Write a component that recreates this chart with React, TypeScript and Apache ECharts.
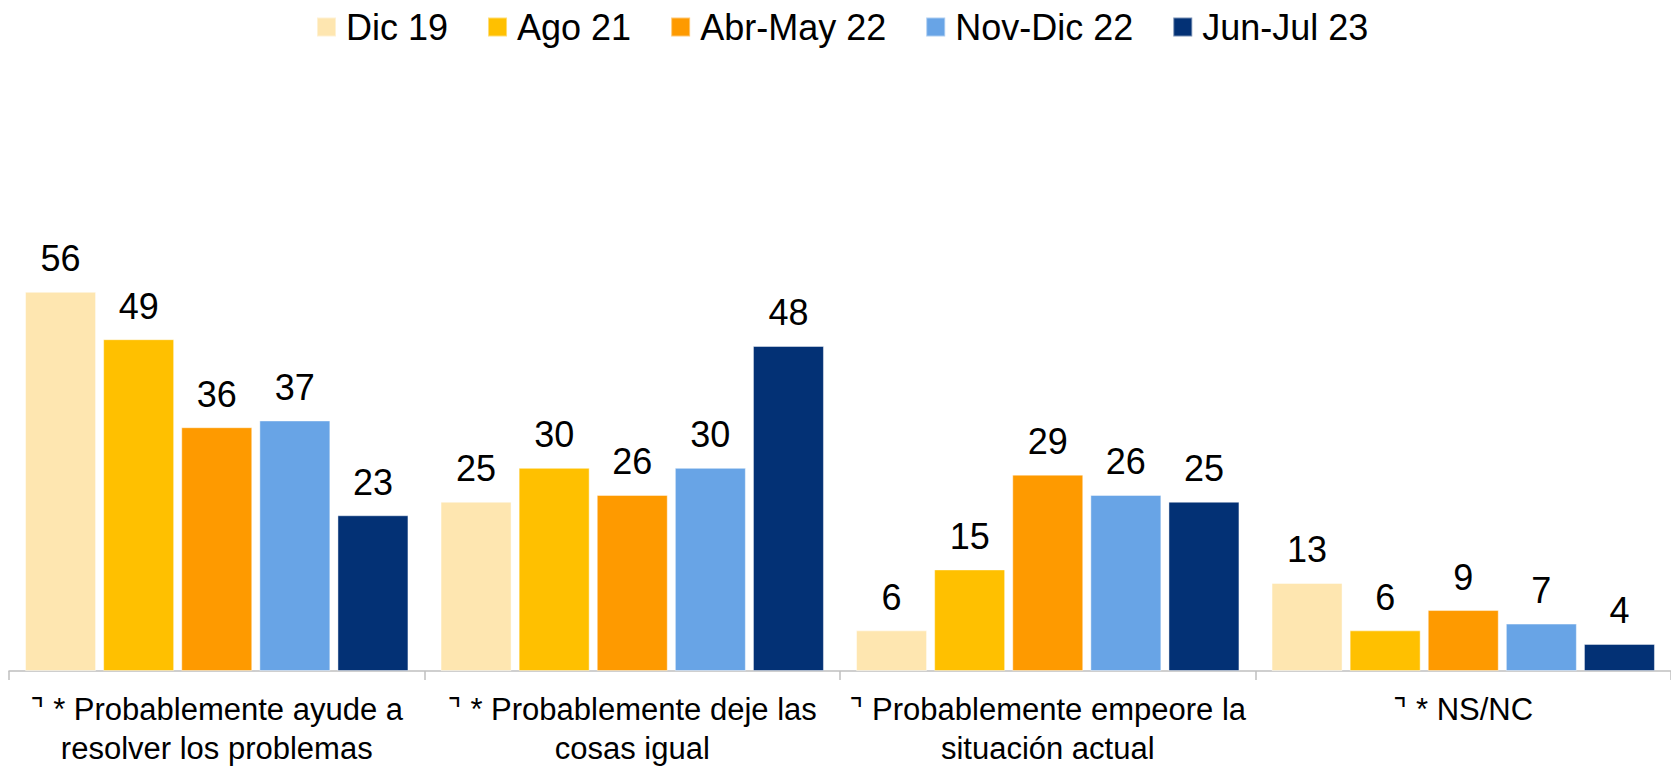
import React, { useEffect, useRef } from "react";
import * as echarts from "echarts";

const categories = [
  "* Probablemente ayude a\nresolver los problemas",
  "* Probablemente deje las\ncosas igual",
  "Probablemente empeore la\nsituación actual",
  "* NS/NC",
];

const seriesNames = ["Dic 19", "Ago 21", "Abr-May 22", "Nov-Dic 22", "Jun-Jul 23"];
const seriesColors = ["#FEE6B0", "#FFC000", "#FE9A00", "#68A4E6", "#033175"];

const dic19 = [56, 25, 6, 13];
const ago21 = [49, 30, 15, 6];
const abrMay22 = [36, 26, 29, 9];
const novDic22 = [37, 30, 26, 7];
const junJul23 = [23, 48, 25, 4];

const seriesValues = [dic19, ago21, abrMay22, novDic22, junJul23];

const FONT = "'Liberation Sans', Arial, sans-serif";
const MARK = "⌝";

export default function App() {
  const ref = useRef<HTMLDivElement>(null);

  useEffect(() => {
    document.body.style.margin = "0";
    if (!ref.current) return;
    const chart = echarts.init(ref.current, null, { renderer: "svg" });
    chart.setOption({
      animation: false,
      backgroundColor: "#ffffff",
      textStyle: { fontFamily: FONT },
      legend: {
        left: 316,
        top: 9,
        padding: 0,
        itemWidth: 19,
        itemHeight: 19,
        itemGap: 39,
        icon: "rect",
        textStyle: {
          fontFamily: FONT,
          fontSize: 36,
          color: "#000000",
          padding: [0, 0, 0, 5],
        },
        data: seriesNames,
      },
      grid: {
        left: 9,
        width: 1675,
        top: 197,
        bottom: 92,
        containLabel: false,
      },
      xAxis: {
        type: "category",
        data: categories,
        axisLine: { show: true, lineStyle: { color: "#BFBFBF", width: 1.5 } },
        axisTick: { show: true, length: 9, lineStyle: { color: "#BFBFBF", width: 1.5 } },
        axisLabel: {
          interval: 0,
          margin: 19,
          fontFamily: FONT,
          fontSize: 31,
          lineHeight: 39,
          color: "#000000",
          align: "center",
          formatter: (v: string) => {
            const lines = v.split("\n");
            lines[0] = "{g|" + MARK + "} " + lines[0];
            return lines.join("\n");
          },
          rich: {
            g: {
              fontFamily: "'DejaVu Sans', sans-serif",
              fontSize: 30,
              lineHeight: 39,
              color: "#000000",
            },
          },
        },
        splitLine: { show: false },
      },
      yAxis: {
        type: "value",
        min: 0,
        max: 70,
        show: false,
        splitLine: { show: false },
      },
      series: seriesNames.map((name, i) => ({
        name,
        type: "bar",
        data: seriesValues[i],
        barWidth: 71,
        barGap: "10%",
        itemStyle: {
          color: seriesColors[i],
          borderColor: "rgba(255,255,255,0.45)",
          borderWidth: 1,
        },
        label: {
          show: true,
          position: "top",
          distance: 15,
          fontFamily: FONT,
          fontSize: 36,
          color: "#000000",
        },
      })),
    });
    return () => chart.dispose();
  }, []);

  return (
    <div
      ref={ref}
      style={{ position: "fixed", left: 0, top: 0, width: 1671, height: 768 }}
    />
  );
}
